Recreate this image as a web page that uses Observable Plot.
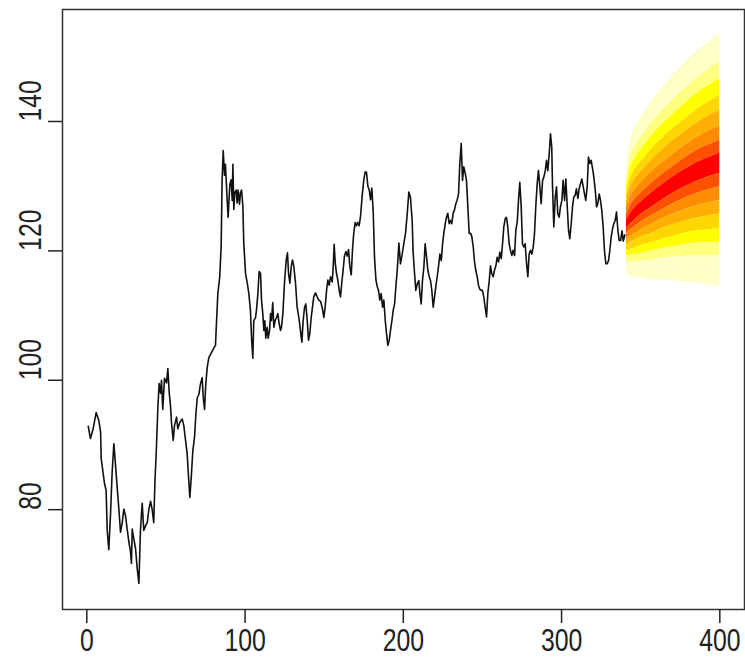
<!DOCTYPE html>
<html><head><meta charset="utf-8">
<script src="https://cdn.jsdelivr.net/npm/d3@7"></script>
<script src="https://cdn.jsdelivr.net/npm/@observablehq/plot@0.6"></script>
<style>body{margin:0;background:#fff}svg{display:block}</style>
</head><body><div id="chart"></div>
<script>
// observed series: time index and level
const t = [0.9,2.3,4.0,5.9,7.6,8.7,9.1,10.4,11.2,12.2,12.9,13.9,15,16,17.1,18.1,19.2,20.2,21.3,22.4,23.4,24.5,25.5,26.6,27.6,28.2,28.7,29.7,30.8,31.8,32.9,33.9,35,36,37.1,38.2,39.2,40.3,41.3,42.3,43,44,44.9,45.7,46.6,47.2,48,49.1,50.4,51.2,52.1,52.9,53.5,54.6,55.4,56.7,57.5,58.8,60.3,61.3,62.4,63.4,64.3,65.1,66,67,68.1,68.9,69.8,70.8,71.8,72.9,73.6,74.4,75.2,76.1,77.1,78.2,
80.3,81.3,82,82.8,84,84.9,85.5,86.2,87,87.6,88.7,89.3,90.4,91.2,91.9,92.3,92.9,93.5,94.4,95,95.6,96.5,97.1,97.8,98.6,99.2,100.3,101.4,102.4,103.4,104.1,104.9,105.5,106.6,107.2,108.1,108.9,109.8,110.4,111.2,111.9,112.5,113.1,114,114.6,115.5,116.1,116.7,117.5,118.2,119,119.9,120.7,121.6,122.4,123,123.9,124.9,126,126.8,127.5,128.3,129.2,130,130.8,131.9,132.9,134,135,135.9,136.7,137.6,138.4,139.3,140.1,140.9,141.8,142.6,143.4,144.5,145.6,146.6,147.7,148.7,149.8,150.6,151.5,152.3,153.2,154,155.1,155.7,156.3,157,157.8,158.6,159.5,160.3,161.1,162,162.8,163.7,164.5,165.4,166.2,167.1,167.9,168.7,169.6,170.4,171.3,172.1,173,174,175.1,175.9,176.7,177.6,178.5,179.3,180.1,181,181.8,182.7,183.5,184.3,185.2,186,186.9,187.7,188.6,189.4,190.2,191.1,191.9,192.8,193.6,194.5,195.3,196.2,197.2,
198.2,199.3,200.3,201.4,202.5,203.5,204.5,205.6,206.2,207.1,207.9,208.8,209.8,210.5,211.3,212.1,213,213.8,214.7,215.5,216.4,217.2,218,218.9,219.7,220.5,221.4,222.2,223.1,224,224.8,225.6,226.5,227.3,228.1,229,229.8,230.6,231.5,232.3,233.2,234,234.9,235.7,236.6,237.4,238.2,239.1,239.9,240.8,241.6,242.5,243.3,244.2,245,245.8,246.7,247.5,248.3,249.2,250,250.9,251.7,252.6,253.4,254.3,255.1,255.9,256.8,257.6,258.5,259.3,260.2,261,261.9,262.7,263.5,264.4,265.2,266,266.9,267.7,268.6,269.4,270.3,271.1,272,272.8,273.6,274.5,275.3,276.1,277,277.9,278.7,279.5,280.4,281.2,282.1,282.9,283.7,284.6,285.4,286.3,287.1,288,288.8,289.7,290.5,291.3,292.2,293,293.8,294.3,295.1,296,296.8,297.6,298.5,299.3,300.2,301,301.9,302.7,303.6,304.4,305.2,306.1,306.9,307.7,308.6,309.4,310.3,311.1,312,312.8,313.7,314.5,315.3,316.2,317,317.9,318.7,319.6,320.4,321.3,322.1,322.9,323.8,324.6,325.4,326.3,327.1,328,328.8,329.7,330.5,331.4,332.2,333,333.9,334.7,335.6,336.4,337.3,338.2,339,340];
const v = [92.9,91,92.5,95,93.8,92,87.9,85.5,84,83,76.8,73.8,79.4,85.7,90.2,87,83.4,80.3,76.5,78,80.1,79,77,75,73.5,71.7,77,75.5,74,71,68.6,76.8,81,76.8,77.5,78,80,81.3,80,78,84,89.6,95.8,99.5,98,100,95.5,100.3,99.6,101.8,98,96,93.5,90.7,93,94.3,92.5,93.5,94,93,90.7,88.7,85,81.9,85,89.1,91.3,94.7,97.3,97.8,99.4,100.4,97.3,95.5,99.5,102,103.5,104,
105,105.4,109.2,113.4,116,120.8,130.9,135.5,131.7,133.4,127.8,125.2,130.3,131,127.8,133.4,126.4,129,129.4,127.4,129.4,127.2,129,129.4,127,121.1,116.5,115,113.4,110.8,106.5,103.4,109.2,109.7,110.8,113.4,116.8,116.5,112.4,110.3,107.7,109.2,106.5,108.2,106.5,107.7,110.3,109.2,112,108.2,109.2,109.7,110.3,108.7,107.7,108.2,110.3,115,118.6,119.7,116.5,115,117.6,118.6,117.6,115,111.3,109.7,107.7,105.9,109.2,111.3,111.8,109.2,106.2,107.2,109.7,111.3,112.9,113.5,112.9,112.4,112.2,111.3,109.7,111.3,113.9,115.5,114.7,116,115.2,117.6,121,118.1,116.5,115.5,113.9,112.9,115,117.1,119.2,119.9,119.2,120.2,117.6,116.3,120.2,122.8,124.4,123.9,124.4,123.9,125.4,128.5,131.1,132.2,132.2,130,129.4,127.9,129.7,125.9,119,115.5,114.5,113.9,112.4,113.4,111.3,112.4,109.2,107.2,105.4,106.2,107.7,109.2,110.8,111.8,114.5,117.1,121.2,
118,119.5,121.1,122.7,125.8,129.1,128.3,124.7,119.8,116.5,113.9,114.9,115.4,113.4,111.8,115.4,117.5,121.1,119,117,116,115.4,113.9,111.3,112.8,114.4,116,117.5,119.5,118.5,121.1,122.7,124.2,125.2,125.8,124.2,124.7,124.2,125.8,126.3,127.3,127.8,128.8,133.5,136.6,130.9,133,132,130.9,126.8,122.7,122.7,122.2,120.6,118.3,117,116,114.7,114.1,113.9,113.9,112.8,111.3,109.8,113.4,115.4,117.7,116.5,116,117,117.7,119,118.3,119.8,118.8,121.1,123.7,125,125.2,123.7,121.1,120.1,119.3,120.1,119.3,123.2,124.5,127.8,130.6,126.8,121.1,120.6,121.1,118,116,119.5,120.1,119.5,120.6,122.7,126.8,130.4,132.4,129.9,127.3,130.9,131.4,132.4,134,132.4,135,138.1,136,129.9,123.7,128.3,129.9,125.8,125.2,126.8,127.8,130.9,127.8,131.1,126.8,123.2,121.9,124.2,126.8,128.3,128.6,129.6,128.1,129.6,130.4,131.1,129.9,128.8,127.8,129.9,134.5,133.5,134,132.7,131.4,129.4,126.8,127.3,128.8,127.8,126.3,123.7,120.1,118,118,118.5,120.1,122.2,123.4,124.2,124.7,126,123.2,121.6,121.6,123.1,121.5,122.5,123];

// forecast fan: horizon points and band boundaries (top to bottom)
const fanX = [341,343,346,350,356,364,374,386,400];
const fanBounds = [
  [133.0,136.5,138.8,140.5,142.8,145.3,148.0,150.9,153.6],
  [131.0,133.9,135.9,137.4,139.5,141.7,144.2,146.8,149.2],
  [129.9,132.4,134.1,135.6,137.5,139.6,141.9,144.4,146.6],
  [128.7,130.8,132.4,133.7,135.5,137.5,139.6,141.9,144.0],
  [127.7,129.5,131.0,132.2,133.8,135.7,137.7,139.9,141.7],
  [126.6,128.1,129.4,130.5,132.0,133.7,135.6,137.6,139.3],
  [125.6,126.8,127.9,128.9,130.3,131.9,133.7,135.6,137.1],
  [124.7,125.6,126.6,127.5,128.8,130.3,132.0,133.7,135.1],
  [123.4,124.0,124.7,125.6,126.6,127.9,129.4,130.8,132.0],
  [122.6,123.1,123.7,124.4,125.3,126.4,127.7,128.9,129.9],
  [121.8,122.1,122.6,123.2,124.0,125.0,126.0,127.0,127.8],
  [120.9,121.2,121.6,122.1,122.6,123.5,124.3,125.1,125.7],
  [120.0,120.2,120.4,120.8,121.2,121.8,122.5,123.1,123.4],
  [119.2,119.3,119.4,119.6,119.9,120.4,120.8,121.2,121.3],
  [118.4,118.3,118.3,118.4,118.5,118.9,119.1,119.3,119.2],
  [117.5,117.3,117.1,117.2,117.1,117.3,117.3,117.2,116.9],
  [116.5,116.2,115.9,115.8,115.5,115.5,115.3,115.0,114.4]
];
const fanColors = ["#FFFFC8","#FFFF80","#FFFF00","#FFD700","#FFB000","#FF8C00","#FF5000","#FF0000",
                   "#FF5000","#FF8C00","#FFB000","#FFD700","#FFFF00","#FFFF80","#FFFFC8","#FFFFC8"];

const xTicks = [0,100,200,300,400];
const yTicks = [80,100,120,140];

const series = t.map((d,i)=>({t:d, v:v[i]}));
const fanRows = fanX.map((x,j)=>({x, b: fanBounds.map(a=>a[j])}));
const bandMarks = fanColors.map((c,i)=>Plot.areaY(fanRows,{x:"x", y1:d=>d.b[i+1], y2:d=>d.b[i], fill:c, curve:"monotone-x"}));

const font = "'Liberation Sans',Arial,sans-serif";
const chart = Plot.plot({
  width:745, height:668,
  marginLeft:62, marginRight:1, marginTop:9, marginBottom:59,
  x:{domain:[-15.36,415.6]},
  y:{domain:[64.57,157.31]},
  style:{fontFamily:font, background:"#fff", color:"#222"},
  marks:[
    ...bandMarks,
    Plot.line(series,{x:"t", y:"v", stroke:"#111", strokeWidth:1.6}),
    Plot.frame({stroke:"#333", strokeWidth:1.5}),
    Plot.axisX({ticks:xTicks, tickSize:14, tickPadding:5, fontSize:31, label:null, strokeWidth:1.5}),
    Plot.axisY({ticks:yTicks, tickSize:14, tickFormat:()=>"", label:null, strokeWidth:1.5}),
    Plot.text(yTicks,{y:d=>d, text:d=>String(d), frameAnchor:"left", dx:-31, rotate:-90, fontSize:31, fill:"#222"})
  ]
});
// condense the label glyphs horizontally (the reference uses a narrow face)
d3.select(chart).selectAll("g[aria-label='x-axis tick label'] text, g[aria-label='text'] text")
  .attr("transform", function(){ return (this.getAttribute("transform")||"") + " scale(0.8,1)"; });
document.getElementById("chart").appendChild(chart);
</script>
</body></html>
